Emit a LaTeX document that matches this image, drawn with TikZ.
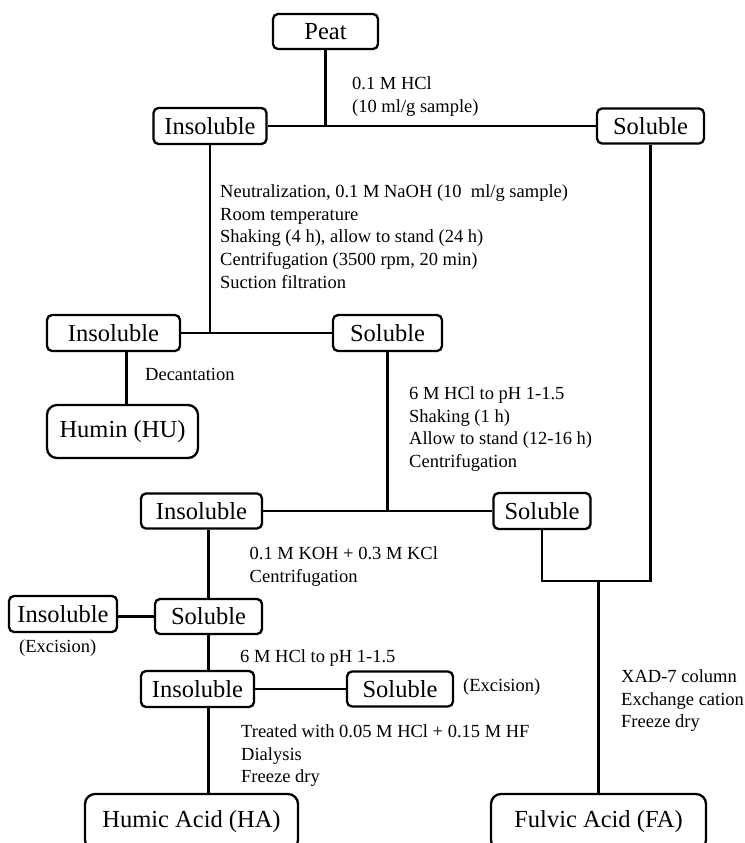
\documentclass[tikz,border=0pt]{standalone}
\usepackage{fontspec}
\setmainfont{Liberation Serif}
\usetikzlibrary{calc}

\begin{document}
\begin{tikzpicture}[x=1bp, y=-1bp,
    box/.style={draw, line width=2.3bp, rounded corners=5bp, inner sep=0pt,
        minimum height=35bp, font=\fontsize{24.5bp}{28bp}\selectfont},
    bigbox/.style={box, rounded corners=10bp},
    note/.style={anchor=north west, align=left, inner sep=0pt,
        font=\fontsize{18.5bp}{22.8bp}\selectfont},
    link/.style={line width=2.8bp}]
    \useasboundingbox (0,0) rectangle (745,843);
    \clip (0,0) rectangle (745,843);

    % Peat and first split (0.1 M HCl)
    \node[box, minimum width=105bp] (peat) at (325.5,31.5) {Peat};
    \node[box, minimum width=113bp, minimum height=36bp] (ins1) at (210,126) {Insoluble};
    \node[box, minimum width=107bp] (sol1) at (650.5,126) {Soluble};
    \node[note] (hcl) at (352,76.3) {0.1 M HCl\\(10 ml/g sample)};

    \draw[link] (peat.south) -- (peat.south |- ins1.east);
    \draw[link] (ins1.east) -- (sol1.west);

    % NaOH extraction
    \node[note] (naoh) at (220,184.3) {Neutralization, 0.1 M NaOH (10~~ml/g sample)\\Room temperature\\Shaking (4 h), allow to stand (24 h)\\Centrifugation (3500 rpm, 20 min)\\Suction filtration};
    \node[box, minimum width=133bp, minimum height=36bp] (ins2) at (113.5,333) {Insoluble};
    \node[box, minimum width=109bp, minimum height=36bp] (sol2) at (387.5,333) {Soluble};

    \draw[link] (ins1.south) -- (ins1.south |- ins2.east);
    \draw[link] (ins2.east) -- (sol2.west);

    % Humin
    \node[note] (decant) at (145,368.3) {Decantation};
    \node[bigbox, minimum width=151bp, minimum height=53bp] (humin) at (122.5,431.5) {Humin (HU)};
    \draw[link] ([xshift=13bp]ins2.south) -- ([xshift=13bp]ins2.south |- humin.north);

    % Acidification of the soluble part
    \node[note] (acid1) at (409,386.3) {6 M HCl to pH 1-1.5\\Shaking (1 h)\\Allow to stand (12-16 h)\\Centrifugation};
    \node[box, minimum width=121bp] (ins3) at (201.5,511) {Insoluble};
    \node[box, minimum width=97bp, minimum height=36bp] (sol3) at (542,511) {Soluble};

    \draw[link] (sol2.south) -- (sol2.south |- ins3.east);
    \draw[link] (ins3.east) -- (sol3.west);

    % KOH + KCl
    \node[note] (koh) at (249.5,546.3) {0.1 M KOH + 0.3 M KCl\\Centrifugation};
    \node[box, minimum width=108bp, minimum height=36bp] (ins4) at (63,614) {Insoluble};
    \node[box, minimum width=107bp] (sol4) at (208.5,616.5) {Soluble};
    \node[note] (exc1) at (19,639.3) {(Excision)};

    \draw[link] (sol4.north |- ins3.south) -- (sol4.north);
    \draw[link] (ins4.east |- sol4.west) -- (sol4.west);

    % Second acidification
    \node[note] (acid2) at (240,649.3) {6 M HCl to pH 1-1.5};
    \node[box, minimum width=113bp, minimum height=36bp] (ins5) at (197.5,689) {Insoluble};
    \node[box, minimum width=106bp] (sol5) at (400,689) {Soluble};
    \node[note] (exc2) at (463,678.3) {(Excision)};

    \draw[link] (sol4.south) -- (sol4.south |- ins5.north);
    \draw[link] (ins5.east) -- (sol5.west);

    % Humic acid
    \node[note] (treat) at (241,724.3) {Treated with 0.05 M HCl + 0.15 M HF\\Dialysis\\Freeze dry};
    \node[bigbox, minimum width=213bp, minimum height=56bp] (humic) at (191.5,822) {Humic Acid (HA)};
    \draw[link] (sol4.south |- ins5.south) -- (sol4.south |- humic.north);

    % Fulvic acid
    \node[note] (xad) at (621,669.3) {XAD-7 column\\Exchange cation\\Freeze dry};
    \node[bigbox, minimum width=215bp, minimum height=56bp] (fulvic) at (598.5,822) {Fulvic Acid (FA)};
    \coordinate (fa) at (598.5,581);
    \draw[link] (sol3.south) |- (fa) -| (sol1.south);
    \draw[link] (fa) -- (fulvic.north);
\end{tikzpicture}
\end{document}
